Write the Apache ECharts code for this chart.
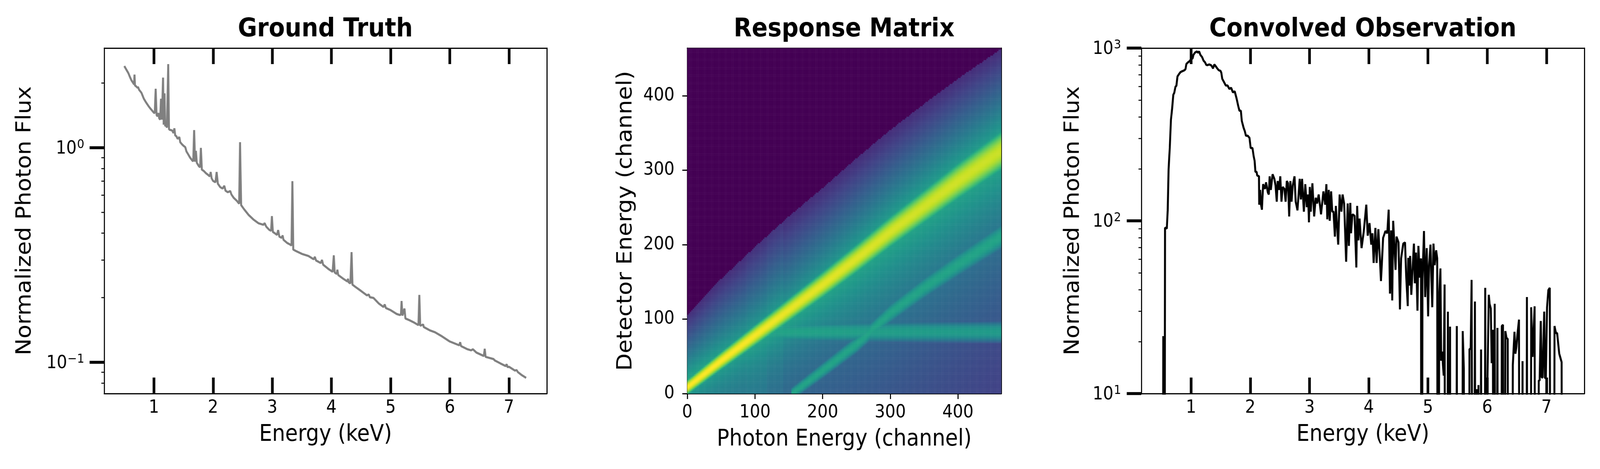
<!DOCTYPE html>
<html><head><meta charset="utf-8">
<script src="https://cdn.jsdelivr.net/npm/echarts@6/dist/echarts.min.js"></script>
<style>html,body{margin:0;padding:0;background:#fff;overflow:hidden}#c{position:absolute;left:0;top:0;width:4500px;height:1200px;transform-origin:0 0}</style>
</head><body><div id="c"></div>
<script>
// ---------------- Data ----------------
const gtSpectrum = [
[0.50,2.40],[0.53,2.32],[0.57,2.22],[0.59,2.15],[0.62,2.06],[0.65,2.00],[0.665,1.97],[0.672,2.19],[0.68,1.95],
[0.70,1.93],[0.725,1.90],[0.73,1.92],[0.75,1.86],[0.79,1.80],[0.83,1.69],[0.87,1.62],[0.91,1.56],[0.95,1.51],
[1.00,1.455],[1.015,1.45],[1.03,1.88],[1.045,1.42],[1.06,1.40],[1.075,1.45],[1.09,1.37],[1.105,1.35],[1.12,1.69],
[1.135,1.35],[1.155,2.12],[1.165,1.28],[1.18,1.79],[1.19,1.26],[1.205,1.27],[1.22,1.24],[1.242,2.45],[1.255,1.22],
[1.27,1.21],[1.29,1.207],[1.31,1.20],[1.33,1.17],[1.346,1.23],[1.36,1.14],[1.38,1.13],[1.40,1.10],[1.43,1.12],
[1.445,1.06],[1.47,1.04],[1.50,1.02],[1.53,1.005],[1.55,0.96],[1.58,0.93],[1.61,0.90],[1.65,0.87],[1.665,0.865],
[1.68,1.207],[1.695,0.86],[1.71,0.966],[1.725,0.85],[1.76,0.82],[1.78,0.81],[1.794,0.997],[1.81,0.79],[1.84,0.78],
[1.88,0.76],[1.92,0.745],[1.945,0.735],[1.96,0.77],[1.975,0.72],[2.00,0.70],[2.04,0.69],[2.06,0.77],[2.08,0.68],
[2.12,0.655],[2.16,0.645],[2.19,0.664],[2.21,0.63],[2.25,0.62],[2.29,0.628],[2.31,0.605],[2.35,0.583],[2.40,0.566],
[2.44,0.548],[2.456,1.06],[2.474,0.54],[2.52,0.518],[2.60,0.486],[2.68,0.463],[2.77,0.444],[2.85,0.437],[2.87,0.445],
[2.90,0.428],[2.95,0.414],[2.98,0.41],[2.994,0.48],[3.01,0.405],[3.05,0.398],[3.08,0.392],[3.10,0.413],[3.12,0.385],
[3.16,0.38],[3.175,0.39],[3.19,0.372],[3.25,0.36],[3.30,0.354],[3.325,0.35],[3.34,0.698],[3.355,0.335],[3.40,0.33],
[3.50,0.32],[3.61,0.313],[3.70,0.302],[3.72,0.31],[3.74,0.298],[3.82,0.29],[3.84,0.30],[3.86,0.285],[3.95,0.272],
[4.02,0.264],[4.04,0.315],[4.055,0.262],[4.09,0.258],[4.10,0.27],[4.115,0.255],[4.20,0.245],[4.27,0.238],[4.28,0.245],
[4.29,0.236],[4.32,0.233],[4.34,0.326],[4.355,0.23],[4.40,0.225],[4.50,0.215],[4.60,0.205],[4.63,0.207],[4.65,0.201],
[4.71,0.1995],[4.80,0.188],[4.88,0.181],[4.90,0.186],[4.92,0.179],[5.00,0.175],[5.10,0.168],[5.16,0.166],[5.175,0.168],
[5.185,0.193],[5.20,0.165],[5.234,0.178],[5.25,0.16],[5.32,0.157],[5.40,0.153],[5.47,0.149],[5.485,0.206],[5.50,0.148],
[5.55,0.15],[5.56,0.146],[5.66,0.141],[5.75,0.138],[5.85,0.133],[6.00,0.125],[6.16,0.120],[6.175,0.124],[6.19,0.119],
[6.30,0.115],[6.36,0.1137],[6.39,0.115],[6.45,0.111],[6.575,0.107],[6.59,0.1156],[6.605,0.106],[6.66,0.105],[6.74,0.1035],
[6.76,0.102],[6.85,0.099],[6.945,0.096],[6.96,0.098],[6.975,0.095],[7.00,0.0953],[7.10,0.0915],[7.13,0.092],[7.15,0.09],
[7.22,0.087],[7.29,0.0846]
];

const obsSpectrum = [
[0.50,0],[0.515,0],[0.53,21.5],[0.545,0],[0.56,91],[0.575,91],[0.59,90],[0.605,115],[0.62,198],[0.63,230],[0.64,265],
[0.66,385],[0.68,448],[0.70,537],[0.716,551],[0.736,597],[0.752,606],[0.77,685],[0.796,707],[0.82,725],[0.84,732],
[0.866,738],[0.89,745],[0.906,757],[0.92,809],[0.946,826],[0.976,841],[0.996,860],[1.026,873],[1.04,914],[1.066,941],
[1.096,956],[1.116,941],[1.136,956],[1.156,914],[1.186,886],[1.21,846],[1.236,826],[1.256,800],[1.276,796],[1.306,804],
[1.336,796],[1.356,780],[1.37,762],[1.392,804],[1.416,785],[1.442,762],[1.466,745],[1.496,738],[1.51,720],[1.526,664],
[1.556,635],[1.586,607],[1.616,607],[1.646,580],[1.676,589],[1.706,554],[1.736,562],[1.766,514],[1.796,462],[1.816,434],
[1.84,434],[1.856,379],[1.886,346],[1.906,331],[1.926,311],[1.956,311],[1.986,302],[2.006,264],[2.036,264],[2.056,237],
[2.072,223],[2.086,192],[2.106,192],[2.116,183],[2.146,181],[2.15,124],[2.166,151],[2.182,123],[2.196,116],[2.216,163],
[2.246,153],[2.266,167],[2.296,146],[2.312,142],[2.326,181],[2.346,151],[2.376,186],[2.406,175],[2.426,160],[2.446,129],
[2.462,170],[2.486,151],[2.506,181],[2.526,129],[2.546,157],[2.576,153],[2.596,129],[2.616,170],[2.636,165],[2.656,106],
[2.676,170],[2.696,129],[2.716,160],[2.746,181],[2.766,129],[2.796,115],[2.834,175],[2.854,133],[2.874,175],[2.904,113],
[2.928,163],[2.954,120],[2.974,142],[2.99,98],[3.004,157],[3.02,113],[3.048,165],[3.078,106],[3.104,136],[3.128,126],
[3.154,142],[3.194,109],[3.234,148],[3.264,124],[3.284,163],[3.30,102],[3.324,151],[3.34,100],[3.364,148],[3.384,113],
[3.404,113],[3.428,81],[3.444,122],[3.484,72.8],[3.508,142],[3.538,113],[3.558,142],[3.584,126],[3.618,58],[3.644,126],
[3.664,71.6],[3.688,127],[3.70,84.7],[3.724,109],[3.76,107],[3.79,53.7],[3.804,122],[3.824,77],[3.844,103],[3.878,69.5],
[3.914,86],[3.958,124],[3.982,82],[4.012,97],[4.042,72.8],[4.062,84.7],[4.082,57],[4.112,91],[4.132,57],[4.162,89.5],
[4.206,44.8],[4.242,79.6],[4.282,87.3],[4.312,84.7],[4.336,116],[4.358,37.9],[4.378,88],[4.396,34.6],[4.412,100],
[4.452,52],[4.468,81],[4.502,75],[4.526,30.7],[4.546,60.6],[4.582,73.8],[4.612,75],[4.632,47.6],[4.658,32.1],[4.666,61],
[4.682,42.2],[4.698,62.6],[4.718,37.3],[4.742,54.6],[4.762,73.8],[4.778,43.5],[4.798,65.5],[4.822,30.2],[4.838,71.6],
[4.862,46.9],[4.882,60.6],[4.892,0],[4.906,46],[4.932,87.3],[4.952,36.2],[4.978,69.5],[5.002,28],[5.018,55.4],[5.042,72.8],
[5.058,44.8],[5.072,31.6],[5.092,73.8],[5.112,55.4],[5.138,67.5],[5.155,60.6],[5.17,0],[5.19,38.6],[5.21,53],[5.222,15.5],
[5.24,17.5],[5.252,14.6],[5.265,12.7],[5.28,42.8],[5.295,0],[5.31,0],[5.336,29.8],[5.35,0],[5.372,24.4],[5.385,0],
[5.47,0],[5.486,24.6],[5.50,0],[5.57,0],[5.586,23],[5.605,14],[5.62,0],[5.69,0],[5.70,18.1],[5.72,18.1],[5.736,45.5],
[5.765,0],[5.792,34.1],[5.81,0],[5.826,10.6],[5.84,0],[5.852,11.2],[5.87,0],[5.896,18.0],[5.91,0],[5.95,0],[5.966,40.9],
[5.98,0],[6.005,12.6],[6.026,37.3],[6.04,33],[6.06,31.1],[6.075,15],[6.096,23.4],[6.11,0],[6.126,33.1],[6.145,0],
[6.172,24],[6.19,0],[6.23,0],[6.246,24.6],[6.266,25],[6.28,0],[6.306,23],[6.325,21],[6.346,20.7],[6.36,0],[6.41,0],
[6.432,14.6],[6.46,22.8],[6.476,17],[6.492,18.6],[6.51,22],[6.536,26.8],[6.55,0],[6.58,0],[6.596,15.4],[6.61,0],
[6.655,0],[6.67,36.2],[6.685,0],[6.728,0],[6.742,31.6],[6.765,16.3],[6.80,32],[6.815,0],[6.85,0],[6.87,11.9],
[6.885,11.9],[6.904,26.3],[6.92,12.4],[6.935,12.4],[6.962,29.8],[6.975,12.3],[6.99,12.3],[7.01,31.6],[7.032,39.7],
[7.056,40.9],[7.075,0],[7.12,0],[7.136,24.6],[7.16,22.4],[7.18,22.4],[7.216,17],[7.256,15.2],[7.27,0],[7.30,0]
];

const energyTicks = [1, 2, 3, 4, 5, 6, 7];
const gtMajorTicks = [0.1, 1];
const gtMinorTicks = [0.08, 0.09, 0.2, 0.3, 0.4, 0.5, 0.6, 0.7, 0.8, 0.9, 2];
const obsMajorTicks = [10, 100, 1000];
const obsMinorTicks = [20, 30, 40, 50, 60, 70, 80, 90, 200, 300, 400, 500, 600, 700, 800, 900];
const channelTicks = [0, 100, 200, 300, 400];

// Response matrix profile, read per photon channel (colour position 0..1 on viridis)
const rmChannels    = [0, 50, 100, 150, 200, 250, 300, 350, 400, 464];
const rmRidgeCenter = [8.5, 44, 78, 112, 146, 181, 217, 251, 285, 326];
const rmRidgeWidth  = [3.5, 4.2, 4.9, 5.6, 6.3, 7.0, 7.7, 8.4, 9.1, 10];
const rmRidgeLevel  = [1.0, 1.0, 0.99, 0.97, 0.96, 0.95, 0.94, 0.93, 0.93, 0.92];
const rmUpperEdge   = [106, 154, 197, 238, 276, 316, 354, 389, 423, 463];
const rmUpperHalo   = [0.64, 0.6, 0.56, 0.56, 0.58, 0.6, 0.62, 0.63, 0.64, 0.65];
const rmLowerHalo   = [0.6, 0.62, 0.63, 0.64, 0.64, 0.64, 0.64, 0.64, 0.64, 0.64];
const rmLowerReach  = [25, 30, 40, 55, 70, 85, 100, 110, 120, 125];
const rmFloor       = [0.38, 0.38, 0.36, 0.33, 0.3, 0.28, 0.26, 0.24, 0.22, 0.2];
const escChannels   = [155, 200, 250, 300, 350, 400, 464];
const escCenter     = [0, 31, 66, 108, 142, 173, 211];
const escWidth      = [2.5, 3, 3.4, 3.8, 4.2, 4.6, 5];
const escLevel      = 0.58;
const bandChannels  = [118, 250, 464];
const bandLevel     = [0.58, 0.56, 0.54];
const bandCenter    = 83;
const stripeStarts  = [88, 118];
const stripeEnds    = [118, 142];
const stripeBoost   = [0.01, 0.02];
const rmSize = 464, rmCell = 2;

const viridis = ['#440154','#482475','#414487','#355f8d','#2a788e','#21918c','#22a884','#44bf70','#7ad151','#bddf26','#fde725'];

function lookup(xs, ys, x) {
  if (x <= xs[0]) return ys[0];
  for (let k = 1; k < xs.length; k++) {
    if (x <= xs[k]) { const f = (x - xs[k-1]) / (xs[k] - xs[k-1]); return ys[k-1] + f * (ys[k] - ys[k-1]); }
  }
  return ys[ys.length - 1];
}
function cellLevel(x, y) {
  const edge = lookup(rmChannels, rmUpperEdge, x);
  if (y > edge) return 0;
  const c = lookup(rmChannels, rmRidgeCenter, x);
  const s = lookup(rmChannels, rmRidgeWidth, x);
  const P = lookup(rmChannels, rmRidgeLevel, x);
  const d = y - c;
  let boost = 0;
  for (let k = 0; k < stripeStarts.length; k++) if (x >= stripeStarts[k] && x < stripeEnds[k]) boost = stripeBoost[k];
  const bandOn = x >= bandChannels[0];
  let halo;
  if (d >= 0) {
    const Ph = lookup(rmChannels, rmUpperHalo, x);
    const De = edge - c;
    halo = 0.13 + (Ph - 0.13) * Math.pow(Math.max(0, 1 - d / De), 1.15);
  } else {
    const Pl = lookup(rmChannels, rmLowerHalo, x);
    const lam = lookup(rmChannels, rmLowerReach, x);
    let fl = lookup(rmChannels, rmFloor, x);
    if (bandOn && y < bandCenter - 6) fl -= 0.04;
    halo = fl + (Pl - fl) * Math.exp(d / lam);
  }
  let t = Math.max(P - 0.054 * (d / s) * (d / s), halo + boost);
  if (x >= escChannels[0]) {
    const e = lookup(escChannels, escCenter, x), se = lookup(escChannels, escWidth, x);
    const de = y - e;
    t = Math.max(t, escLevel - 0.02 * (de / se) * (de / se));
  }
  if (bandOn) {
    const db = y - bandCenter;
    t = Math.max(t, lookup(bandChannels, bandLevel, x) - 0.02 * (db / 4) * (db / 4));
  }
  return Math.min(1, Math.max(0.12, t));
}
const rmCount = rmSize / rmCell;
const rmCats = [];
for (let i = 0; i < rmCount; i++) rmCats.push(i);
const rmData = [];
for (let i = 0; i < rmCount; i++) {
  for (let j = 0; j < rmCount; j++) {
    rmData.push([i, j, cellLevel(i * rmCell + rmCell / 2, j * rmCell + rmCell / 2)]);
  }
}

function powLabel(v) {
  const e = Math.round(Math.log10(v));
  return '{b|10}{s|' + String(e).replace('-', '\u2212') + '}';
}

// ---------------- Layout in reference pixels; the box is fitted to the viewport ----------------
const VW = window.innerWidth || 4500, VH = window.innerHeight || 1200;
const box = document.getElementById('c');
box.style.transform = 'scale(' + (VW / 4500) + ',' + (VH / 1200) + ')';

const FONT = 'DejaVu Sans';
const BLACK = '#000';
const frame = {show: true, onZero: false, lineStyle: {color: BLACK, width: 3}};
const noTick = {show: false};
const noLabel = {show: false};
const noSplit = {show: false};
const tickFont = {fontSize: 46, fontFamily: FONT, color: BLACK};
const nameFont = {fontSize: 58, fontFamily: FONT, color: BLACK};
const powRich = {
  b: {fontSize: 46, fontFamily: FONT, color: BLACK, lineHeight: 46, padding: [6, 0, 0, 0]},
  s: {fontSize: 32, fontFamily: FONT, color: BLACK, lineHeight: 32, verticalAlign: 'top', padding: [0, 0, 0, 1]}
};

const G = [
  {left: 293, top: 123, width: 1245, height: 884},
  {left: 1933, top: 123, width: 883, height: 884},
  {left: 1933, top: 123, width: 883, height: 884},
  {left: 3210, top: 123, width: 1246, height: 884}
];

function energyAxis(gi, pos, withName) {
  return {
    gridIndex: gi, type: 'value', min: 0.16, max: 7.64, position: pos,
    axisLine: frame,
    axisTick: {show: true, inside: true, length: 41, lineStyle: {color: BLACK, width: 7.5}, customValues: energyTicks},
    axisLabel: withName ? Object.assign({show: true, customValues: energyTicks, margin: 14, formatter: v => String(v)}, tickFont) : noLabel,
    splitLine: noSplit,
    name: withName ? 'Energy (keV)' : '', nameLocation: 'middle', nameGap: 77, nameTextStyle: nameFont
  };
}
function logAxis(gi, min, max, major, gap, margin) {
  return {
    gridIndex: gi, type: 'log', logBase: 10, min: min, max: max, position: 'left',
    axisLine: frame,
    axisTick: {show: true, inside: false, length: 41, lineStyle: {color: BLACK, width: 7.5}, customValues: major},
    axisLabel: {show: true, customValues: major, margin: margin, formatter: powLabel, rich: powRich},
    splitLine: noSplit, minorTick: {show: false},
    name: 'Normalized Photon Flux', nameLocation: 'middle', nameGap: gap, nameTextStyle: nameFont
  };
}
function minorAxis(gi, min, max, minor) {
  return {
    gridIndex: gi, type: 'log', logBase: 10, min: min, max: max, position: 'left',
    axisLine: {show: false},
    axisTick: {show: true, inside: false, length: 8, lineStyle: {color: BLACK, width: 2.5}, customValues: minor},
    axisLabel: noLabel, splitLine: noSplit
  };
}
function rightFrame(gi, type, min, max) {
  return {gridIndex: gi, type: type, min: min, max: max, position: 'right', axisLine: frame, axisTick: noTick, axisLabel: noLabel, splitLine: noSplit};
}
function title(x, text) {
  return {type: 'text', x: x, y: 76, style: {text: text, font: 'bold 66px "DejaVu Sans"', fill: BLACK, textAlign: 'center', textVerticalAlign: 'middle'}};
}

const option = {
  animation: false,
  backgroundColor: '#fff',
  grid: G,
  graphic: [title(915, 'Ground Truth'), title(2374, 'Response Matrix'), title(3833, 'Convolved Observation')],
  visualMap: {show: false, type: 'continuous', min: 0, max: 1, dimension: 2, seriesIndex: 1, inRange: {color: viridis}},
  xAxis: [
    energyAxis(0, 'bottom', true),
    energyAxis(0, 'top', false),
    {gridIndex: 1, type: 'category', data: rmCats, show: false, boundaryGap: true},
    {gridIndex: 2, type: 'value', min: 0, max: rmSize, interval: 100, position: 'bottom',
     axisLine: frame,
     axisTick: {show: true, inside: false, length: 14, lineStyle: {color: BLACK, width: 3}, customValues: channelTicks},
     axisLabel: Object.assign({show: true, customValues: channelTicks, margin: 26}, tickFont),
     splitLine: noSplit, name: 'Photon Energy (channel)', nameLocation: 'middle', nameGap: 89, nameTextStyle: nameFont},
    {gridIndex: 2, type: 'value', min: 0, max: rmSize, position: 'top', axisLine: frame, axisTick: noTick, axisLabel: noLabel, splitLine: noSplit},
    energyAxis(3, 'bottom', true),
    energyAxis(3, 'top', false)
  ],
  yAxis: [
    logAxis(0, 0.0715, 2.91, gtMajorTicks, 193, 56),
    minorAxis(0, 0.0715, 2.91, gtMinorTicks),
    rightFrame(0, 'log', 0.0715, 2.91),
    {gridIndex: 1, type: 'category', data: rmCats, show: false, boundaryGap: true},
    {gridIndex: 2, type: 'value', min: 0, max: rmSize, interval: 100, position: 'left',
     axisLine: frame,
     axisTick: {show: true, inside: false, length: 14, lineStyle: {color: BLACK, width: 3}, customValues: channelTicks},
     axisLabel: Object.assign({show: true, customValues: channelTicks, margin: 36}, tickFont),
     splitLine: noSplit, name: 'Detector Energy (channel)', nameLocation: 'middle', nameGap: 143, nameTextStyle: nameFont},
    rightFrame(2, 'value', 0, rmSize),
    logAxis(3, 10, 1000, obsMajorTicks, 162, 57),
    minorAxis(3, 10, 1000, obsMinorTicks),
    rightFrame(3, 'log', 10, 1000)
  ],
  series: [
    {type: 'line', xAxisIndex: 0, yAxisIndex: 0, data: gtSpectrum, showSymbol: false, symbol: 'none', clip: true,
     lineStyle: {color: '#808080', width: 5.5}, silent: true, z: 5},
    {type: 'heatmap', xAxisIndex: 2, yAxisIndex: 3, data: rmData, progressive: 0, silent: true,
     itemStyle: {borderWidth: 0}, emphasis: {disabled: true}},
    {type: 'line', xAxisIndex: 5, yAxisIndex: 6, data: obsSpectrum.map(p => [p[0], p[1] > 0 ? p[1] : 0.01]),
     showSymbol: false, symbol: 'none', clip: true, lineStyle: {color: BLACK, width: 5.5}, silent: true, z: 5}
  ]
};

const chart = echarts.init(box, null, {renderer: 'canvas', width: 4500, height: 1200});
chart.setOption(option);
</script></body></html>
